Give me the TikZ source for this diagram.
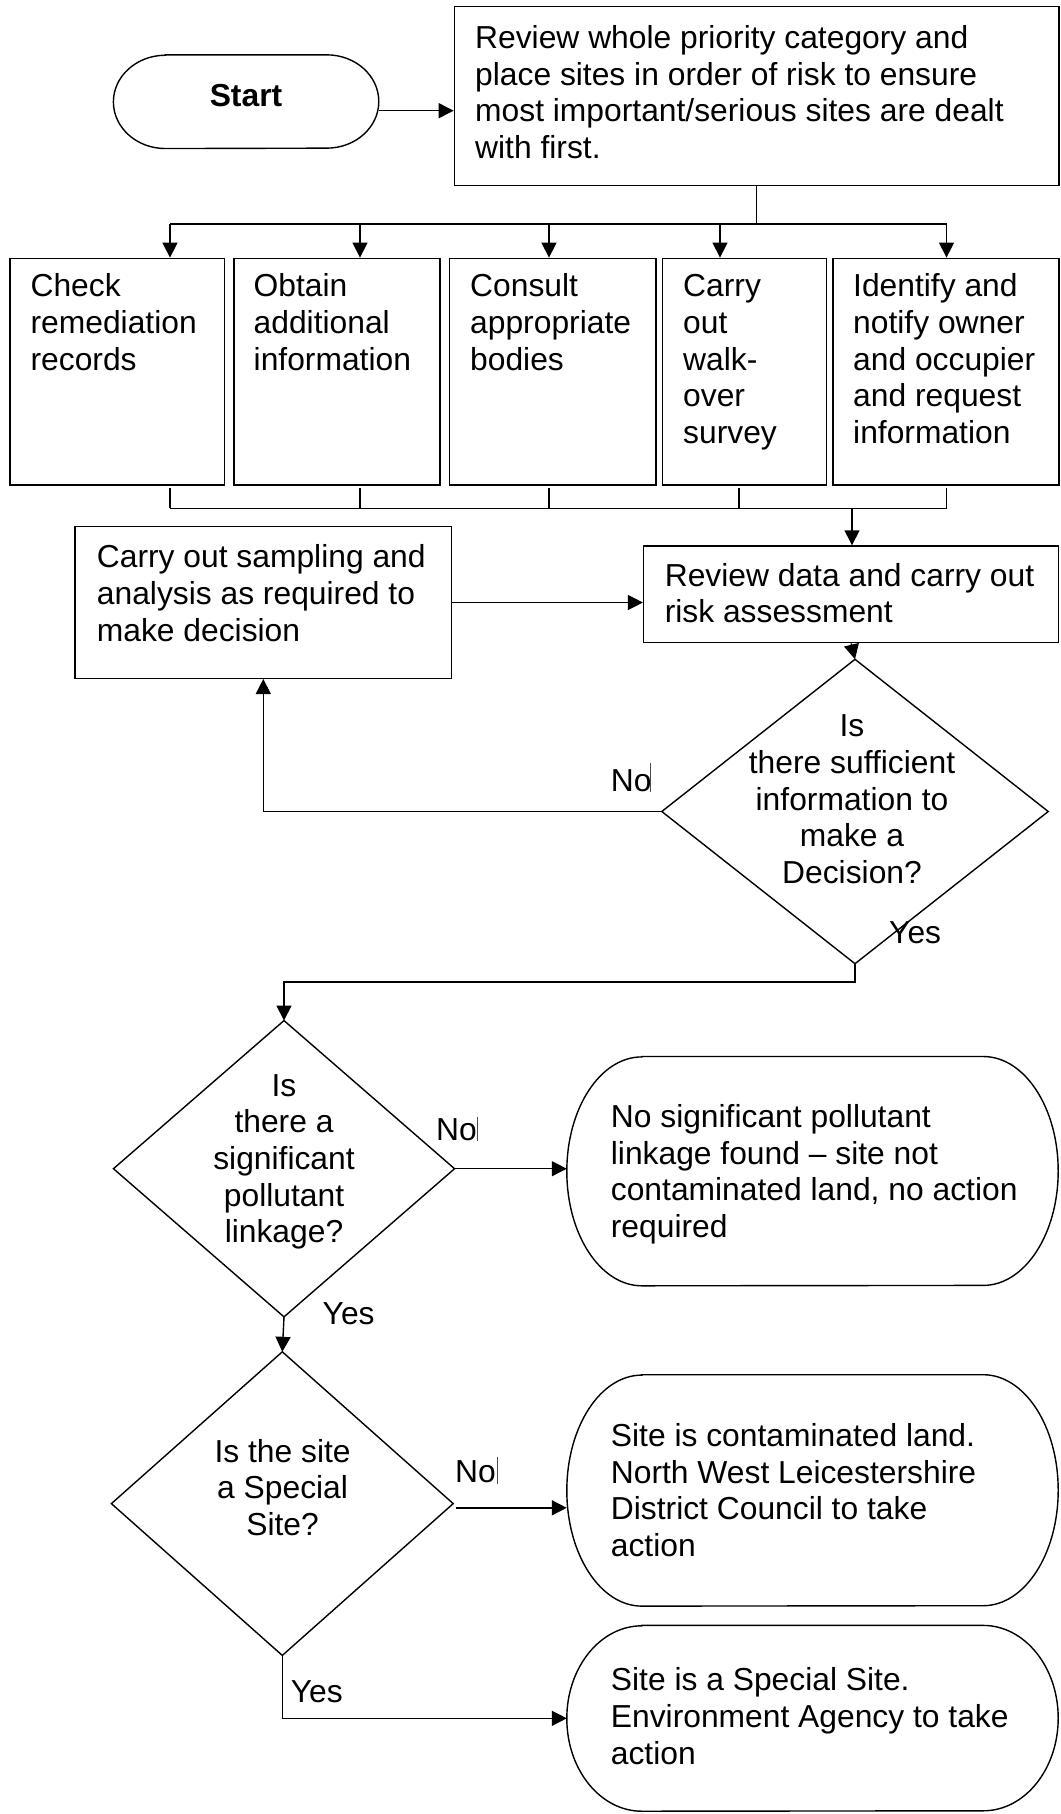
\documentclass[tikz,border=0pt]{standalone}
\usepackage{fontspec}
\setmainfont{Liberation Sans}
\usetikzlibrary{calc,arrows.meta}
\newcommand\fs{\rule{0pt}{26pt}}
\newcommand\mystad[3]{\draw[line] ($(#1.north west)+(#2,0)$) -- ($(#1.north east)+(-#2,0)$) arc[start angle=90,end angle=-90,x radius=#2pt,y radius=#3pt] -- ($(#1.south west)+(#2,0)$) arc[start angle=270,end angle=90,x radius=#2pt,y radius=#3pt] -- cycle;}
\newcommand\mydia[1]{\draw[line] (#1.north) -- (#1.east) -- (#1.south) -- (#1.west) -- cycle;}
\begin{document}
\begin{tikzpicture}[x=1pt,y=-1pt,
  line/.style={line width=1.4pt,line join=miter},
  arr/.style={line width=1.4pt,-{Triangle[length=15pt,width=15pt]}},
  box/.style={draw,line width=1.4pt,rectangle,inner sep=0pt},
  ghost/.style={draw=none,rectangle,inner sep=0pt},
  bar/.style={line width=0.7pt,black!70},
  txt/.style={inner sep=0pt,align=left,anchor=north west,font=\fontsize{31.8}{36.6}\selectfont},
  ctxt/.style={inner sep=0pt,align=center,anchor=north,font=\fontsize{31.8}{36.6}\selectfont},
  lbl/.style={inner sep=0pt,anchor=base west,font=\fontsize{31.8}{36.6}\selectfont}]
\useasboundingbox (0,0) rectangle (1060,1814);

% Start and review
\node[ghost,minimum width=265pt,minimum height=93.3pt] (start) at (246.1,101.7) {};
\mystad{start}{52}{46.65}
\node[inner sep=0pt,anchor=base,font=\fontsize{31.8}{36.6}\selectfont\bfseries] (startT) at (246,106.5) {Start};
\node[box,minimum width=604.7pt,minimum height=179pt] (rev) at (756.7,96.2) {};
\node[txt] (revT) at (475,22.3) {\fs Review whole priority category and\\place sites in order of risk to ensure\\most important/serious sites are dealt\\with first.};
\coordinate (s1) at ([yshift=-9pt]start.east);
\draw[arr] (s1) -- (s1 -| rev.west);

% top bus
\coordinate (j0) at (756.7,224);
\coordinate (t1) at (170,224);
\coordinate (t2) at (360,224);
\coordinate (t3) at (549,224);
\coordinate (t4) at (720,224);
\coordinate (t5) at (946.5,224);
\draw[line] (rev.south) -- (j0);
\draw[line] (t1) -- (t5);

% five boxes
\node[box,minimum width=214.4pt,minimum height=226.7pt] (b1) at (117.3,371.65) {};
\node[box,minimum width=206.2pt,minimum height=226.7pt] (b2) at (337,371.65) {};
\node[box,minimum width=206.2pt,minimum height=226.7pt] (b3) at (552.7,371.65) {};
\node[box,minimum width=163.7pt,minimum height=226.7pt] (b4) at (744.35,371.65) {};
\node[box,minimum width=226.1pt,minimum height=226.7pt] (b5) at (945.95,371.65) {};
\draw[arr] (t1) -- (t1 |- b1.north);
\draw[arr] (t2) -- (t2 |- b2.north);
\draw[arr] (t3) -- (t3 |- b3.north);
\draw[arr] (t4) -- (t4 |- b4.north);
\draw[arr] (t5) -- (t5 |- b5.north);
\node[txt] (b1T) at (30.4,270.7) {\fs Check\\remediation\\records};
\node[txt] (b2T) at (253.5,270.7) {\fs Obtain\\additional\\information};
\node[txt] (b3T) at (470,270.7) {\fs Consult\\appropriate\\bodies};
\node[txt] (b4T) at (683,270.7) {\fs Carry\\out\\walk-\\over\\survey};
\node[txt] (b5T) at (853,270.7) {\fs Identify and\\notify owner\\and occupier\\and request\\information};

% bottom bus
\coordinate (u1) at (170,488.3);
\coordinate (u2) at (360,488.3);
\coordinate (u3) at (549,488.3);
\coordinate (u4) at (739,488.3);
\coordinate (u5) at (946.5,488.3);
\coordinate (v1) at (170,508.3);
\coordinate (v5) at (946.5,508.3);
\coordinate (v6) at (852,508.3);
\draw[line] (u1) -- (u1 |- v1);
\draw[line] (u2) -- (u2 |- v1);
\draw[line] (u3) -- (u3 |- v1);
\draw[line] (u4) -- (u4 |- v1);
\draw[line] (u5) -- (u5 |- v1);
\draw[line] (v1) -- (v5);

% sampling and review data
\node[box,minimum width=376.6pt,minimum height=151.6pt] (samp) at (263.3,602.5) {};
\node[txt] (sampT) at (96.7,541.7) {\fs Carry out sampling and\\analysis as required to\\make decision};
\node[box,minimum width=415.1pt,minimum height=96.7pt] (rd) at (851.15,594.35) {};
\node[txt] (rdT) at (664.6,560) {\fs Review data and carry out\\risk assessment};
\draw[arr] (v6) -- (v6 |- rd.north);
\draw[arr] (samp.east) -- (samp.east -| rd.west);

% diamond 1
\node[ghost,minimum width=386pt,minimum height=304pt] (d1) at (855,811.5) {};
\mydia{d1}
\node[ctxt] (d1T) at (852,710.7) {\fs Is\\there sufficient\\information to\\make a\\Decision?};
\draw[arr] (rd.south) -- (d1.north);
\draw[arr] (d1.west) -| (samp.south);
\node[lbl] (no1) at (610.7,791.7) {No};
\draw[bar] (650,762.7) -- (650,791.7);
\node[lbl] (yes1) at (889,943.3) {Yes};

% diamond 2
\node[ghost,minimum width=340.7pt,minimum height=295.9pt] (d2) at (284,1168.7) {};
\mydia{d2}
\node[ctxt] (d2T) at (284,1070) {\fs Is\\there a\\significant\\pollutant\\linkage?};
\draw[arr] (d1.south) -- ++(0,18.4) -| (d2.north);
\node[ghost,minimum width=491pt,minimum height=228.9pt] (r1) at (812.5,1171.15) {};
\mystad{r1}{75}{114.45}
\node[txt] (r1T) at (610.7,1101.3) {\fs No significant pollutant\\linkage found – site not\\contaminated land, no action\\required};
\draw[arr] (d2.east) -- (d2.east -| r1.west);
\node[lbl] (no2) at (436,1140.2) {No};
\draw[bar] (477.3,1116.8) -- (477.3,1141.2);
\node[lbl] (yes2) at (322.5,1324.5) {Yes};

% diamond 3
\node[ghost,minimum width=341.4pt,minimum height=303.2pt] (d3) at (282.3,1503.6) {};
\mydia{d3}
\node[ctxt] (d3T) at (282.6,1436) {\fs Is the site\\a Special\\Site?};
\draw[arr] (d2.south) -- (d3.north);
\node[ghost,minimum width=491pt,minimum height=231pt] (r2) at (812.5,1490.4) {};
\mystad{r2}{75}{115.5}
\node[txt] (r2T) at (610.7,1420.5) {\fs Site is contaminated land.\\North West Leicestershire\\District Council to take\\action};
\coordinate (n3) at ($(d3.east)+(3,4.2)$);
\draw[arr] (n3) -- (n3 -| r2.west);
\node[lbl] (no3) at (455,1482.9) {No};
\draw[bar] (497,1457) -- (497,1484);
\node[ghost,minimum width=491pt,minimum height=185.4pt] (r3) at (812.5,1718.3) {};
\mystad{r3}{75}{92.7}
\node[txt] (r3T) at (610.7,1664.6) {\fs Site is a Special Site.\\Environment Agency to take\\action};
\draw[arr] (d3.south) |- (r3.west);
\node[lbl] (yes3) at (290.7,1702) {Yes};
\end{tikzpicture}
\end{document}
